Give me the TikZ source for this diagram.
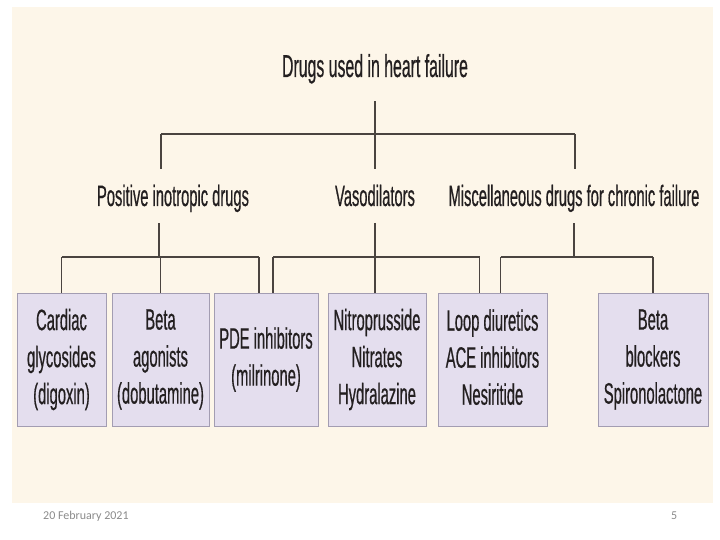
\documentclass[tikz,border=0pt]{standalone}
\usepackage{fontspec}
\setmainfont{Liberation Sans}
\newfontfamily\narrowsans{Liberation Sans}[FakeStretch=0.5,FakeBold=0.5]
\newfontfamily\footfont{Carlito}
\definecolor{slidebg}{HTML}{FDF6E9}
\definecolor{boxfill}{HTML}{E4DEEE}
\definecolor{boxline}{HTML}{A39DB2}
\definecolor{wire}{HTML}{4A4440}
\definecolor{ink}{HTML}{231F20}
\definecolor{footgray}{HTML}{8A8A8A}
\newcommand{\topstrut}{\rule{0pt}{28pt}}
\newcommand{\botstrut}{\rule[-5pt]{0pt}{5pt}}
\tikzset{
    head/.style={font=\narrowsans\fontsize{31.7}{36}\selectfont, text=ink, inner sep=0pt, anchor=base},
    group/.style={font=\narrowsans\fontsize{29.4}{34}\selectfont, text=ink, inner sep=0pt, anchor=base},
    drugbox/.style={draw=boxline, fill=boxfill, line width=0.8pt, minimum height=133pt,
                    inner sep=0pt, align=center, text=ink,
                    font=\narrowsans\fontsize{29.5}{37}\selectfont,
                    execute at begin node=\topstrut, execute at end node=\botstrut},
    bar/.style={draw=wire, line width=2.6pt},
    stem/.style={draw=wire, line width=1.4pt},
    foot/.style={font=\footfont\fontsize{12}{14}\selectfont, text=footgray, inner sep=0pt, anchor=base west}
}
\begin{document}
\begin{tikzpicture}[x=1pt,y=-1pt]
    \useasboundingbox (0,0) rectangle (720,540);
    \fill[slidebg] (12,7) rectangle (713,503);

    \node[head] (title) at (375,77) {Drugs used in heart failure};
    \node[group] (pos) at (173,206) {Positive inotropic drugs};
    \node[group] (vaso) at (375,206) {Vasodilators};
    \node[group] (misc) at (574,206) {Miscellaneous drugs for chronic failure};

    \node[drugbox, minimum width=89pt] (card) at (61.5,359.5) {Cardiac\\glycosides\\(digoxin)};
    \node[drugbox, minimum width=97pt] (beta) at (160.5,359.5) {Beta\\agonists\\(dobutamine)};
    \node[drugbox, minimum width=104pt] (pde) at (266,359.5) {PDE inhibitors\\(milrinone)};
    \node[drugbox, minimum width=98pt] (nitro) at (377,359.5) {Nitroprusside\\Nitrates\\Hydralazine};
    \node[drugbox, minimum width=109pt] (loop) at (492.5,359.5) {Loop diuretics\\ACE inhibitors\\Nesiritide};
    \node[drugbox, minimum width=110pt] (bblock) at (653,359.5) {Beta\\blockers\\Spironolactone};

    % top level
    \coordinate (tj) at (375,134);
    \coordinate (pu) at (161,134);
    \coordinate (mu) at (575,134);
    \draw[stem] (tj) -- ++(0,-33);
    \draw[bar] (pu) -- (mu);
    \foreach \c in {pu,tj,mu}
        \draw[stem] (\c) -- ++(0,35);

    % positive inotropic drugs
    \coordinate (pj) at (159,257);
    \draw[stem] (pj) -- ++(0,-34);
    \draw[bar] (card.north |- pj) -- ([xshift=-7pt]pde.north |- pj);
    \foreach \b/\dx in {card/0,beta/0,pde/-7}
        \draw[stem] ([xshift=\dx pt]\b.north |- pj) -- ([xshift=\dx pt]\b.north);

    % vasodilators
    \coordinate (vj) at (375,257);
    \draw[stem] (vj) ++(0,-34) -- (vj |- nitro.north);
    \draw[bar] ([xshift=7pt]pde.north |- vj) -- ([xshift=-13pt]loop.north |- vj);
    \foreach \b/\dx in {pde/7,loop/-13}
        \draw[stem] ([xshift=\dx pt]\b.north |- vj) -- ([xshift=\dx pt]\b.north);

    % miscellaneous
    \coordinate (mj) at (574,257);
    \draw[stem] (mj) -- ++(0,-34);
    \draw[bar] ([xshift=8pt]loop.north |- mj) -- (bblock.north |- mj);
    \foreach \b/\dx in {loop/8,bblock/0}
        \draw[stem] ([xshift=\dx pt]\b.north |- mj) -- ([xshift=\dx pt]\b.north);

    \node[foot] (date) at (43,519) {20 February 2021};
    \node[foot] (page) at (671,519) {5};
\end{tikzpicture}
\end{document}
